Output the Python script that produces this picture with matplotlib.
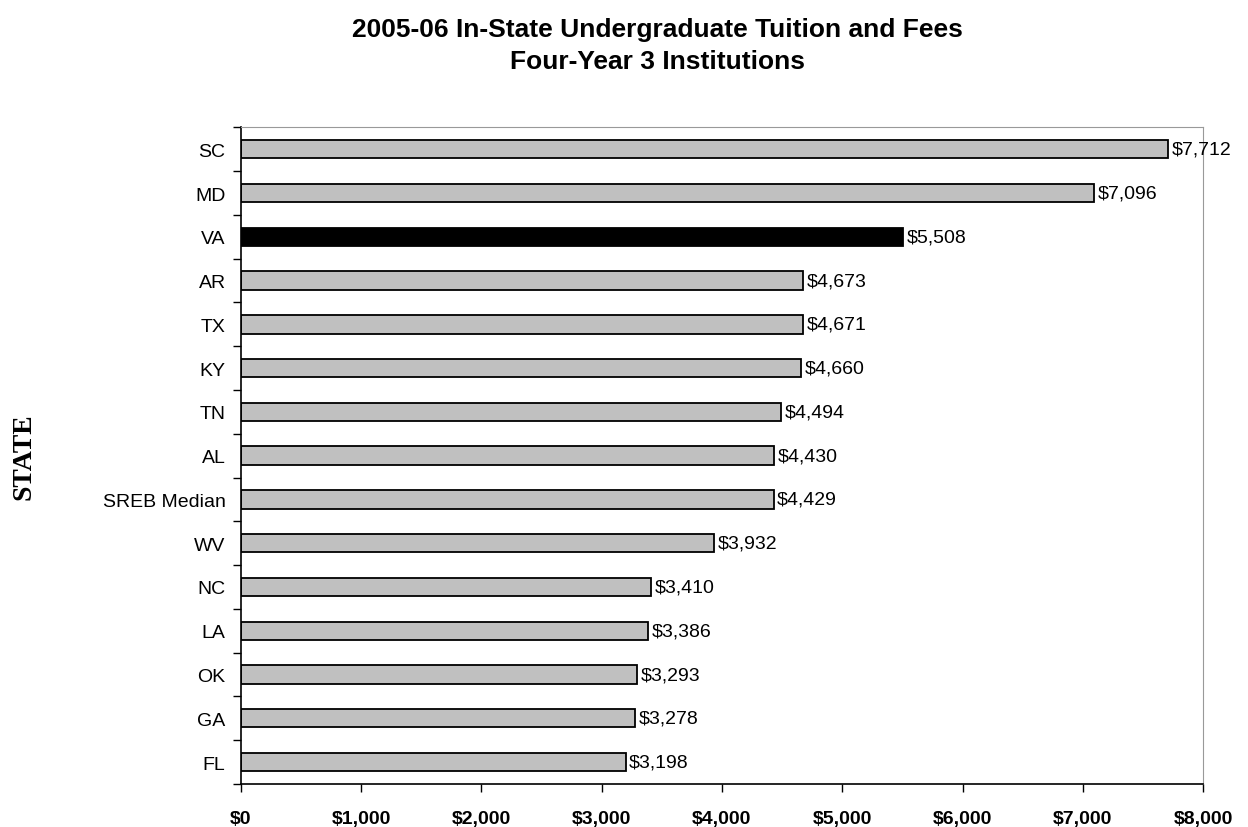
import matplotlib
matplotlib.use("Agg")
import matplotlib.pyplot as plt
from matplotlib.ticker import FuncFormatter

states = ["SC", "MD", "VA", "AR", "TX", "KY", "TN", "AL", "SREB Median",
          "WV", "NC", "LA", "OK", "GA", "FL"]
tuition = [7712, 7096, 5508, 4673, 4671, 4660, 4494, 4430, 4429,
           3932, 3410, 3386, 3293, 3278, 3198]
highlight = "VA"

plt.rcParams['font.family'] = ['Liberation Sans', 'DejaVu Sans']

fig = plt.figure(figsize=(12.48, 8.28), dpi=100)
ax = fig.add_axes([0.193, 0.052, 0.771, 0.793])

n = len(states)
ypos = [n - 1 - i for i in range(n)]
colors = ["black" if s == highlight else "#c0c0c0" for s in states]
ax.barh(ypos, tuition, height=0.42, color=colors, edgecolor="black", linewidth=1.3)

for y, v in zip(ypos, tuition):
    ax.text(v + 30, y, "${:,}".format(v), va="center", ha="left", fontsize=14)

ax.set_xlim(0, 8000)
ax.set_ylim(-0.5, n - 0.5)
ax.set_xticks(range(0, 8001, 1000))
ax.xaxis.set_major_formatter(FuncFormatter(lambda x, p: "${:,.0f}".format(x)))
for lab in ax.get_xticklabels():
    lab.set_fontweight("bold")
ax.tick_params(axis="x", labelsize=14, length=6, width=1, pad=13)

# category labels between boundary ticks
ax.set_yticks([i - 0.5 for i in range(n + 1)])
ax.set_yticklabels([])
ax.set_yticks(ypos, minor=True)
ax.set_yticklabels(states, minor=True, fontsize=14)
ax.tick_params(axis="y", which="major", length=6, width=1)
ax.tick_params(axis="y", which="minor", length=0, pad=11)

ax.spines["left"].set_linewidth(1.2)
ax.spines["bottom"].set_linewidth(1.2)
ax.spines["top"].set_color("#999999")
ax.spines["right"].set_color("#999999")

fig.text(0.019, 0.449, "STATE", rotation=90, ha="center", va="center",
         fontsize=20, fontweight="bold", family=["Liberation Serif", "DejaVu Serif"])

fig.text(0.527, 0.964, "2005-06 In-State Undergraduate Tuition and Fees",
         ha="center", va="center", fontsize=19, fontweight="bold")
fig.text(0.527, 0.925, "Four-Year 3 Institutions",
         ha="center", va="center", fontsize=19, fontweight="bold")

fig.savefig("out.png", dpi=100)
